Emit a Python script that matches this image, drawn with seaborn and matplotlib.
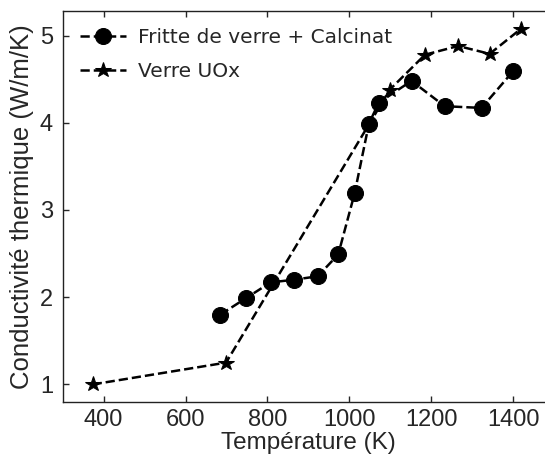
import pandas as pd
import seaborn as sns
import matplotlib.pyplot as plt

# Fritte de verre + Calcinat
temp_fritte = [685, 748, 808, 864, 923, 973, 1013, 1048, 1072, 1152, 1233, 1323, 1400]
cond_fritte = [1.80, 1.99, 2.17, 2.20, 2.24, 2.49, 3.19, 3.99, 4.23, 4.48, 4.19, 4.17, 4.59]

# Verre UOx
temp_uox = [373, 699, 1099, 1185, 1266, 1343, 1420]
cond_uox = [1.00, 1.25, 4.38, 4.78, 4.88, 4.79, 5.08]

df_fritte = pd.DataFrame({'T': temp_fritte, 'k': cond_fritte})
df_uox = pd.DataFrame({'T': temp_uox, 'k': cond_uox})

sns.set_style("ticks")
plt.rcParams['font.family'] = ['Liberation Sans', 'DejaVu Sans']

fig = plt.figure(figsize=(5.45, 4.63), dpi=100)
ax = fig.add_axes([0.115, 0.132, 0.9015, 0.844])

sns.lineplot(data=df_fritte, x='T', y='k', ax=ax, color='k', linestyle='--',
             linewidth=1.8, marker='o', markersize=11.5, markeredgecolor='k',
             label='Fritte de verre + Calcinat')
sns.lineplot(data=df_uox, x='T', y='k', ax=ax, color='k', linestyle='--',
             linewidth=1.8, marker='*', markersize=11.5, markeredgecolor='k',
             label='Verre UOx')

ax.set_xlim(300, 1500)
ax.set_ylim(0.8, 5.28)
ax.set_xticks([400, 600, 800, 1000, 1200, 1400])
ax.set_yticks([1, 2, 3, 4, 5])
ax.tick_params(direction='in', top=True, right=True, length=4, width=1,
               labelsize=17)
ax.tick_params(axis='y', pad=7)
ax.tick_params(axis='x', pad=5)
for s in ax.spines.values():
    s.set_linewidth(1)
    s.set_color('#222222')

ax.set_xlabel('Température (K)', fontsize=17.5, labelpad=1)
ax.set_ylabel('Conductivité thermique (W/m/K)', fontsize=18.5, labelpad=4)
ax.legend(loc='upper left', frameon=False, prop={'family': 'DejaVu Sans', 'size': 14.5},
          handlelength=2.3, borderaxespad=0.45, handletextpad=0.6, labelspacing=0.75)

fig.savefig('out.png', dpi=100)
